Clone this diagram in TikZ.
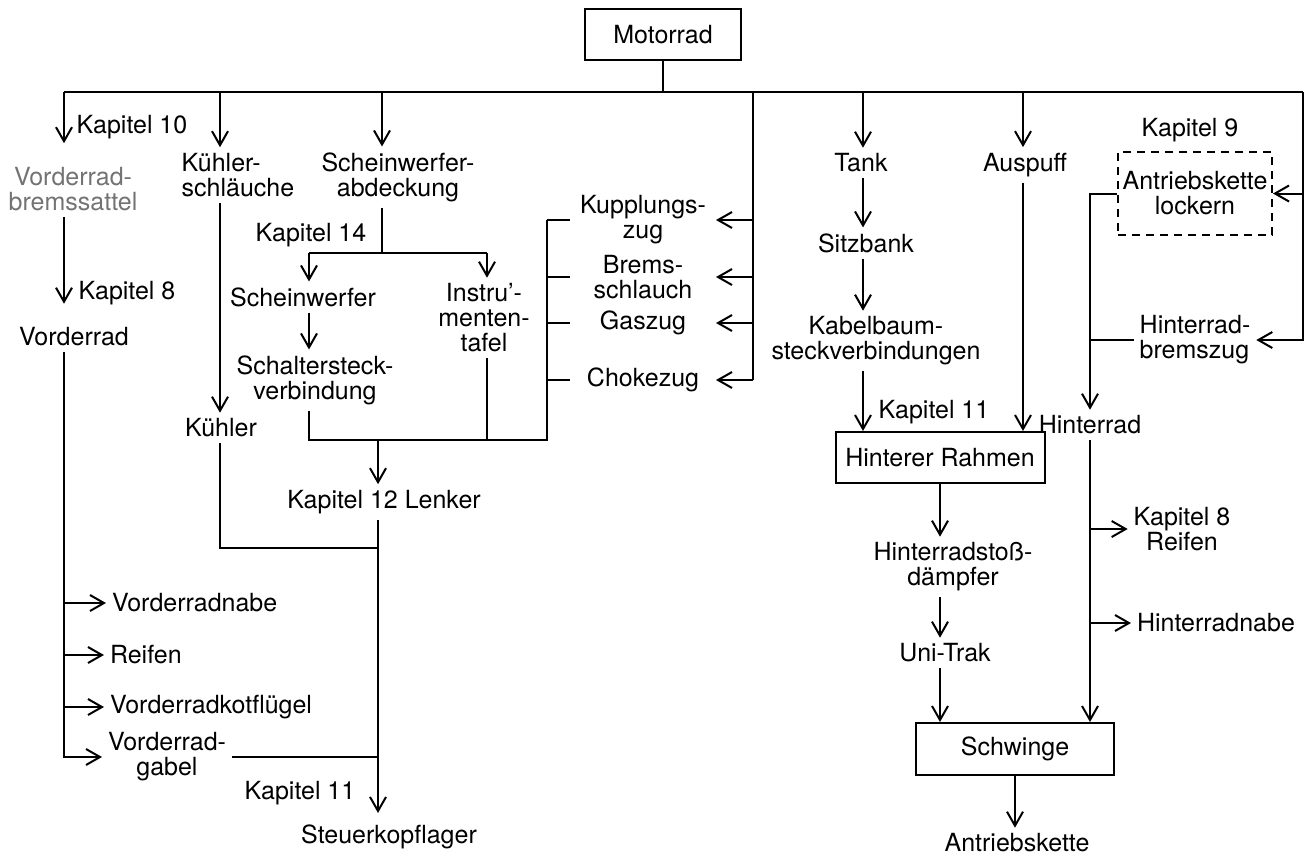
\documentclass[tikz,border=0pt]{standalone}
\usepackage{fontspec}
\setmainfont{TeX Gyre Heros}
\usetikzlibrary{arrows.meta}

\begin{document}
\begin{tikzpicture}[>={Straight Barb[length=7pt,width=8pt]},x=0.5pt,y=-0.5pt,line width=1pt,
        every node/.style={font=\fontsize{12.5pt}{12.5pt}\selectfont,align=center,inner sep=1.5pt,outer sep=1.5pt},
        box/.style={draw,outer sep=0.5pt,inner sep=2pt},
        mid/.style={minimum width=70pt}]
        \useasboundingbox (0,0) rectangle (1311,859);

        \node[box,minimum width=78pt,minimum height=25.5pt] (motor) at (663,34.5) {Motorrad};
        \coordinate (bus) at (663,92);
        \coordinate (cL) at (64,92);
        \coordinate (cK) at (220,92);
        \coordinate (cS) at (382,92);
        \coordinate (cM) at (753,92);
        \coordinate (cT) at (863,92);
        \coordinate (cA) at (1023,92);
        \coordinate (cR) at (1303,92);

        \node (k10) at (132,127) {Kapitel 10};
        \node[text=black!55] (vbs) at (73,189) {Vorderrad-\\bremssattel};
        \node (k8a) at (127,293) {Kapitel 8};
        \node (vr) at (74,337) {Vorderrad};
        \node[anchor=west] (vnabe) at (106,603) {Vorderradnabe};
        \node[anchor=west] (vreifen) at (104,655) {Reifen};
        \node[anchor=west] (vkotf) at (104,707) {Vorderradkotflügel};
        \node (vgabel) at (167,757) {Vorderrad-\\gabel};

        \node[align=left] (khs) at (238,175) {Kühler-\\schläuche};
        \node (kuehler) at (221,428) {Kühler};

        \node (sab) at (398,177) {Scheinwerfer-\\abdeckung};
        \coordinate (cSp) at (382,253);
        \coordinate (cSl) at (309,253);
        \coordinate (cSr) at (487,253);
        \node (k14) at (311,235) {Kapitel 14};
        \node (sw) at (303,297) {Scheinwerfer};
        \node (itf) at (484,318) {Instru'-\\menten-\\tafel};
        \node (ssv) at (315,380) {Schaltersteck-\\verbindung};
        \coordinate (cBr) at (547,440);
        \coordinate (cC) at (378,440);
        \node (lenker) at (384,502) {Kapitel 12 Lenker};
        \coordinate (cJ) at (378,548);
        \node (k11a) at (300,793) {Kapitel 11};
        \node (skl) at (389,837) {Steuerkopflager};

        \node[mid] (kzug) at (643,220) {Kupplungs-\\zug};
        \node[mid] (bschl) at (643,277) {Brems-\\schlauch};
        \node[mid] (gas) at (643,323) {Gaszug};
        \node[mid] (choke) at (643,380) {Chokezug};

        \node (tank) at (861,163) {Tank};
        \node (sitz) at (866,243) {Sitzbank};
        \node (kbs) at (876,341) {Kabelbaum-\\steckverbindungen};
        \node (k11b) at (934,412) {Kapitel 11};
        \node (ausp) at (1025,165) {Auspuff};
        \node[box,minimum width=104.5pt,minimum height=25.5pt] (hr) at (940,457.5) {Hinterer Rahmen};
        \node (hsd) at (953,567) {Hinterradstoß-\\dämpfer};
        \node (uni) at (945,653) {Uni-Trak};
        \node[box,minimum width=99pt,minimum height=26pt] (schw) at (1015,749) {Schwinge};
        \node (akette) at (1017,843) {Antriebskette};

        \node (k9) at (1190,130) {Kapitel 9};
        \node[box,dash pattern=on 4pt off 3pt,minimum width=77pt,minimum height=41.5pt] (akl) at (1195,193.5) {Antriebskette\\lockern};
        \node[align=left] (hbz) at (1195,340) {Hinterrad-\\bremszug};
        \node (hrad) at (1090,425) {Hinterrad};
        \node (k8b) at (1182,529) {Kapitel 8\\Reifen};
        \node[anchor=west] (hnabe) at (1131,623) {Hinterradnabe};

        \draw (motor) -- (bus);
        \draw (cL) -- (cR);
        \draw[->,shorten >=9pt] (cL) -- (vbs.north -| cL);
        \draw[->] (cK) -- (khs.north -| cK);
        \draw[->] (cS) -- (sab.north -| cS);
        \draw (cM) -- (choke.east -| cM);
        \draw[->] (cT) -- (tank.north -| cT);
        \draw[->] (cA) -- (ausp.north -| cA);
        \draw[->] (cR) |- (hbz.east);
        \draw[->] (akl.east -| cR) -- (akl.east);

        \draw[->,shorten >=9pt] (vbs.south -| cL) -- (vr.north -| cL);
        \draw[->] (vr.south -| cL) |- (vgabel.west);
        \draw[->] (vnabe.west -| cL) -- (vnabe.west);
        \draw[->] (vreifen.west -| cL) -- (vreifen.west);
        \draw[->] (vkotf.west -| cL) -- (vkotf.west);
        \draw (vgabel.east) -- (vgabel.east -| cC);

        \draw[->] (khs.south -| cK) -- (kuehler.north -| cK);
        \draw (kuehler.south -| cK) |- (cJ);

        \draw (sab.south -| cS) -- (cSp);
        \draw (cSl) -- (cSr);
        \draw[->] (cSl) -- (sw.north -| cSl);
        \draw[->] (cSr) -- (itf.north -| cSr);
        \draw[->] (sw.south -| cSl) -- (ssv.north -| cSl);
        \draw (ssv.south -| cSl) |- (cBr) -- (kzug.west -| cBr);
        \draw (itf.south -| cSr) -- (cSr |- cBr);
        \draw (kzug.west -| cBr) -- (kzug.west);
        \draw (bschl.west -| cBr) -- (bschl.west);
        \draw (gas.west -| cBr) -- (gas.west);
        \draw (choke.west -| cBr) -- (choke.west);
        \draw[->] (cC) -- (lenker.north -| cC);
        \draw[->,shorten >=3pt] (lenker.south -| cC) -- (skl.north -| cC);

        \draw[->] (kzug.east -| cM) -- (kzug.east);
        \draw[->] (bschl.east -| cM) -- (bschl.east);
        \draw[->] (gas.east -| cM) -- (gas.east);
        \draw[->] (choke.east -| cM) -- (choke.east);

        \draw[->] (tank.south -| cT) -- (sitz.north -| cT);
        \draw[->] (sitz.south -| cT) -- (kbs.north -| cT);
        \draw[->] (kbs.south -| cT) -- (hr.north -| cT);
        \draw[->] (ausp.south -| cA) -- (hr.north -| cA);
        \draw[->] (hr.south) -- (hsd.north -| hr.south);
        \draw[->] (hsd.south -| hr.south) -- (uni.north -| hr.south);
        \draw[->] (uni.south -| hr.south) -- (schw.north -| hr.south);
        \draw[->] (schw.south) -- (akette.north -| schw.south);

        \draw[->] (akl.west) -| (hrad.north);
        \draw (hbz.west -| hrad.north) -- (hbz.west);
        \draw[->] (hrad.south) -- (schw.north -| hrad.south);
        \draw[->] (k8b.west -| hrad.south) -- (k8b.west);
        \draw[->] (hnabe.west -| hrad.south) -- (hnabe.west);
      \end{tikzpicture}
\end{document}
